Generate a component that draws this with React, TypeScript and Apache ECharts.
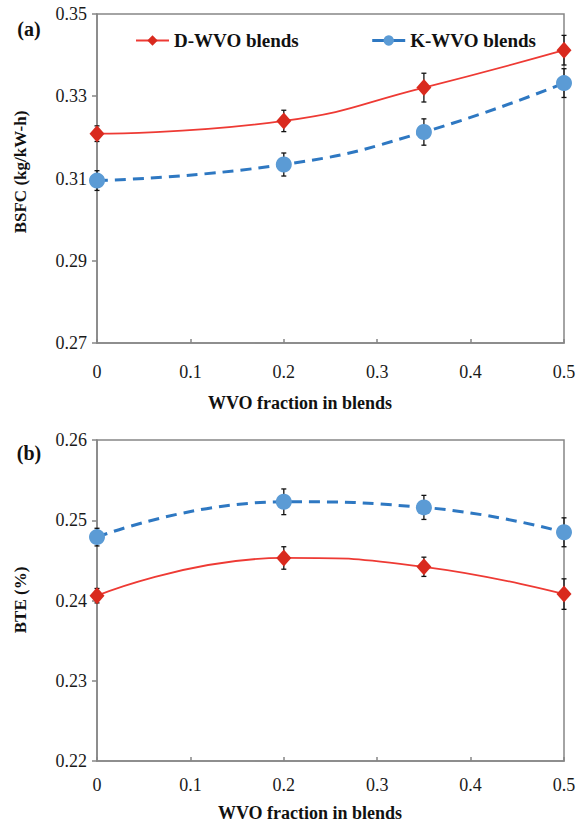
import React, { useEffect, useRef } from "react";
import * as echarts from "echarts";

const xValues = [0, 0.2, 0.35, 0.5];
const bsfcD = [0.3209, 0.324, 0.3321, 0.3412];
const bsfcK = [0.3095, 0.3134, 0.3213, 0.3332];
const bsfcDErr = [0.0019, 0.0026, 0.0035, 0.0036];
const bsfcKErr = [0.0024, 0.0028, 0.0032, 0.0035];
const bteD = [0.2406, 0.2453, 0.2442, 0.2408];
const bteK = [0.2479, 0.2523, 0.2516, 0.2485];
const bteDErr = [0.0009, 0.0014, 0.0012, 0.0019];
const bteKErr = [0.0011, 0.0016, 0.0015, 0.0018];
const seriesNames = ["D-WVO blends", "K-WVO blends"];
const xTitle = "WVO fraction in blends";
const yTitleTop = "BSFC (kg/kW-h)";
const yTitleBottom = "BTE (%)";

const FONT = "Liberation Serif";
const AXIS = "#868686";
const RED_LINE = "#ee3a34";
const RED_MARK = "#d92a1e";
const BLUE_LINE = "#2e78c2";
const BLUE_MARK = "#5b9bd5";

function pairs(vals: number[]) {
  return xValues.map((x, i) => [x, vals[i]]);
}
function errData(vals: number[], errs: number[]) {
  return xValues.map((x, i) => [x, vals[i] - errs[i], vals[i] + errs[i]]);
}

function errorSeries(idx: number, vals: number[], errs: number[]) {
  return {
    type: "custom",
    xAxisIndex: idx,
    yAxisIndex: idx,
    z: 1,
    clip: false,
    silent: true,
    data: errData(vals, errs),
    renderItem: (_p: any, api: any) => {
      const lo = api.coord([api.value(0), api.value(1)]);
      const hi = api.coord([api.value(0), api.value(2)]);
      const cap = 2.5;
      const st = { stroke: "#111", lineWidth: 1.3 };
      return {
        type: "group",
        children: [
          { type: "line", shape: { x1: lo[0], y1: lo[1], x2: hi[0], y2: hi[1] }, style: st },
          { type: "line", shape: { x1: lo[0] - cap, y1: lo[1], x2: lo[0] + cap, y2: lo[1] }, style: st },
          { type: "line", shape: { x1: hi[0] - cap, y1: hi[1], x2: hi[0] + cap, y2: hi[1] }, style: st },
        ],
      };
    },
  };
}

function lineD(idx: number, vals: number[]) {
  return {
    name: seriesNames[0],
    type: "line",
    xAxisIndex: idx,
    yAxisIndex: idx,
    z: 3,
    clip: false,
    smooth: 0.5,
    data: pairs(vals),
    symbol: "diamond",
    symbolSize: [15, 17],
    lineStyle: { color: RED_LINE, width: 1.8, type: "solid" },
    itemStyle: { color: RED_MARK },
  };
}
function lineK(idx: number, vals: number[]) {
  return {
    name: seriesNames[1],
    type: "line",
    xAxisIndex: idx,
    yAxisIndex: idx,
    z: 2,
    clip: false,
    smooth: 0.5,
    data: pairs(vals),
    symbol: "circle",
    symbolSize: 16,
    lineStyle: { color: BLUE_LINE, width: 3, type: [11, 7] },
    itemStyle: { color: BLUE_MARK },
  };
}

function xAxisCfg(idx: number, margin: number) {
  return {
    type: "value",
    gridIndex: idx,
    min: 0,
    max: 0.5,
    interval: 0.1,
    axisLine: { show: true, onZero: false, lineStyle: { color: AXIS, width: 1.5 } },
    axisTick: { show: true, inside: true, length: 4, lineStyle: { color: AXIS, width: 1.5 } },
    splitLine: { show: false },
    axisLabel: {
      margin,
      fontFamily: FONT,
      fontSize: 18,
      color: "#1a1a1a",
      formatter: (v: number) => (v === 0 ? "0" : String(Math.round(v * 10) / 10)),
    },
  };
}
function yAxisCfg(idx: number, min: number, max: number, interval: number) {
  return {
    type: "value",
    gridIndex: idx,
    min,
    max,
    interval,
    axisLine: { show: true, lineStyle: { color: AXIS, width: 1.5 } },
    axisTick: { show: true, inside: false, length: 5, lineStyle: { color: AXIS, width: 1.5 } },
    splitLine: { show: false },
    axisLabel: {
      margin: 10,
      fontFamily: FONT,
      fontSize: 18,
      color: "#1a1a1a",
      formatter: (v: number) => v.toFixed(2),
    },
  };
}

function txt(text: string, x: number, y: number, size: number, rotation = 0, align = "center") {
  return {
    type: "text",
    x,
    y,
    rotation,
    style: {
      text,
      fontFamily: FONT,
      fontSize: size,
      fontWeight: "bold",
      fill: "#111",
      textAlign: align,
      textVerticalAlign: "middle",
    },
  };
}

export default function App() {
  const ref = useRef<HTMLDivElement>(null);
  useEffect(() => {
    if (!ref.current) return;
    const chart = echarts.init(ref.current, undefined, { renderer: "svg" });
    chart.setOption({
      animation: false,
      backgroundColor: "#ffffff",
      grid: [
        { left: 97, top: 14, width: 467, height: 329, show: true, borderColor: AXIS, borderWidth: 1.5, backgroundColor: "transparent" },
        { left: 97, top: 440, width: 467, height: 321, show: true, borderColor: AXIS, borderWidth: 1.5, backgroundColor: "transparent" },
      ],
      xAxis: [xAxisCfg(0, 20), xAxisCfg(1, 15)],
      yAxis: [yAxisCfg(0, 0.27, 0.35, 0.02), yAxisCfg(1, 0.22, 0.26, 0.01)],
      legend: {
        left: 130,
        top: 26,
        itemWidth: 33,
        itemHeight: 13,
        itemGap: 72,
        textStyle: { fontFamily: FONT, fontSize: 19, fontWeight: "bold", color: "#111" },
        data: [
          { name: seriesNames[0] },
          { name: seriesNames[1], lineStyle: { type: "solid", width: 3 } },
        ],
      },
      graphic: [
        txt("(a)", 29, 29, 20),
        txt("(b)", 29, 453, 20),
        txt(yTitleTop, 20, 172, 17, Math.PI / 2),
        txt(yTitleBottom, 20, 600, 17, Math.PI / 2),
        txt(xTitle, 300, 403, 18),
        txt(xTitle, 310, 813, 18),
      ],
      series: [
        errorSeries(0, bsfcD, bsfcDErr),
        errorSeries(0, bsfcK, bsfcKErr),
        lineD(0, bsfcD),
        lineK(0, bsfcK),
        errorSeries(1, bteD, bteDErr),
        errorSeries(1, bteK, bteKErr),
        lineD(1, bteD),
        lineK(1, bteK),
      ],
    });
    return () => chart.dispose();
  }, []);
  return (
    <div
      ref={ref}
      style={{ position: "absolute", left: 0, top: 0, width: 583, height: 825, background: "#fff" }}
    />
  );
}
